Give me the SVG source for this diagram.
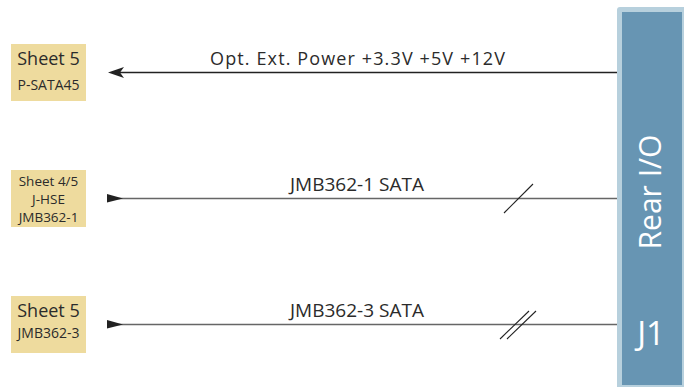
<svg xmlns="http://www.w3.org/2000/svg" width="684" height="387" viewBox="0 0 684 387">
<style>
text{font-family:"Open Sans","Noto Sans","Liberation Sans",sans-serif;fill:#2b2b2b}
.lbl{fill:#eedb9e}
.big{font-size:18px}
.sm{font-size:14px}
.wl{font-size:18px}
.wire{stroke:#666;stroke-width:1.6;fill:none}
.slash{stroke:#222;stroke-width:1.1;fill:none}
.rio{font-size:31px;fill:#ffffff}
</style>
<rect width="684" height="387" fill="#ffffff"/>
<g id="rear-io">
<rect x="617" y="7" width="70" height="390" rx="3" fill="#b7d0dd"/>
<rect x="622" y="12" width="60" height="373" fill="#6795b3"/>
<text class="rio" transform="translate(661,192) rotate(-90)" text-anchor="middle" textLength="115" lengthAdjust="spacingAndGlyphs">Rear I/O</text>
<text class="rio" x="651" y="345" text-anchor="middle" style="font-size:33px">J1</text>
</g>
<g id="sheet5-psata45">
<rect class="lbl" x="11" y="44" width="75" height="57"/>
<text class="big" x="48.5" y="65" text-anchor="middle">Sheet 5</text>
<text class="sm" x="48.5" y="90" text-anchor="middle">P-SATA45</text>
</g>
<g id="sheet45-jhse">
<rect class="lbl" x="11" y="170" width="75" height="57"/>
<text class="sm" x="48.5" y="186" text-anchor="middle" style="font-size:13.5px">Sheet 4/5</text>
<text class="sm" x="48.5" y="204" text-anchor="middle" style="font-size:13.5px">J-HSE</text>
<text class="sm" x="48.5" y="222" text-anchor="middle" style="font-size:13.5px">JMB362-1</text>
</g>
<g id="sheet5-jmb3623">
<rect class="lbl" x="11" y="296" width="75" height="57"/>
<text class="big" x="48.5" y="317" text-anchor="middle">Sheet 5</text>
<text class="sm" x="48.5" y="338" text-anchor="middle">JMB362-3</text>
</g>
<g id="connectors">
<line x1="118" y1="72.5" x2="617" y2="72.5" stroke="#222" stroke-width="1.4"/>
<polygon points="108,72.5 124,67 120,72.5 124,78" fill="#222"/>
<text class="wl" x="210" y="65" textLength="295" lengthAdjust="spacing">Opt. Ext. Power +3.3V +5V +12V</text>
<line class="wire" x1="115" y1="198.5" x2="617" y2="198.5"/>
<polygon points="107,194 107,202.5 123,198.5" fill="#222"/>
<line class="slash" x1="504" y1="213" x2="533" y2="184"/>
<text class="wl" x="290" y="191" textLength="134" lengthAdjust="spacingAndGlyphs">JMB362-1 SATA</text>
<line class="wire" x1="115" y1="324.5" x2="617" y2="324.5"/>
<polygon points="107,320 107,328.5 123,324.5" fill="#222"/>
<line class="slash" x1="500" y1="339" x2="529" y2="311"/>
<line class="slash" x1="507" y1="339" x2="536" y2="311"/>
<text class="wl" x="290" y="317" textLength="134" lengthAdjust="spacingAndGlyphs">JMB362-3 SATA</text>
</g>
</svg>
